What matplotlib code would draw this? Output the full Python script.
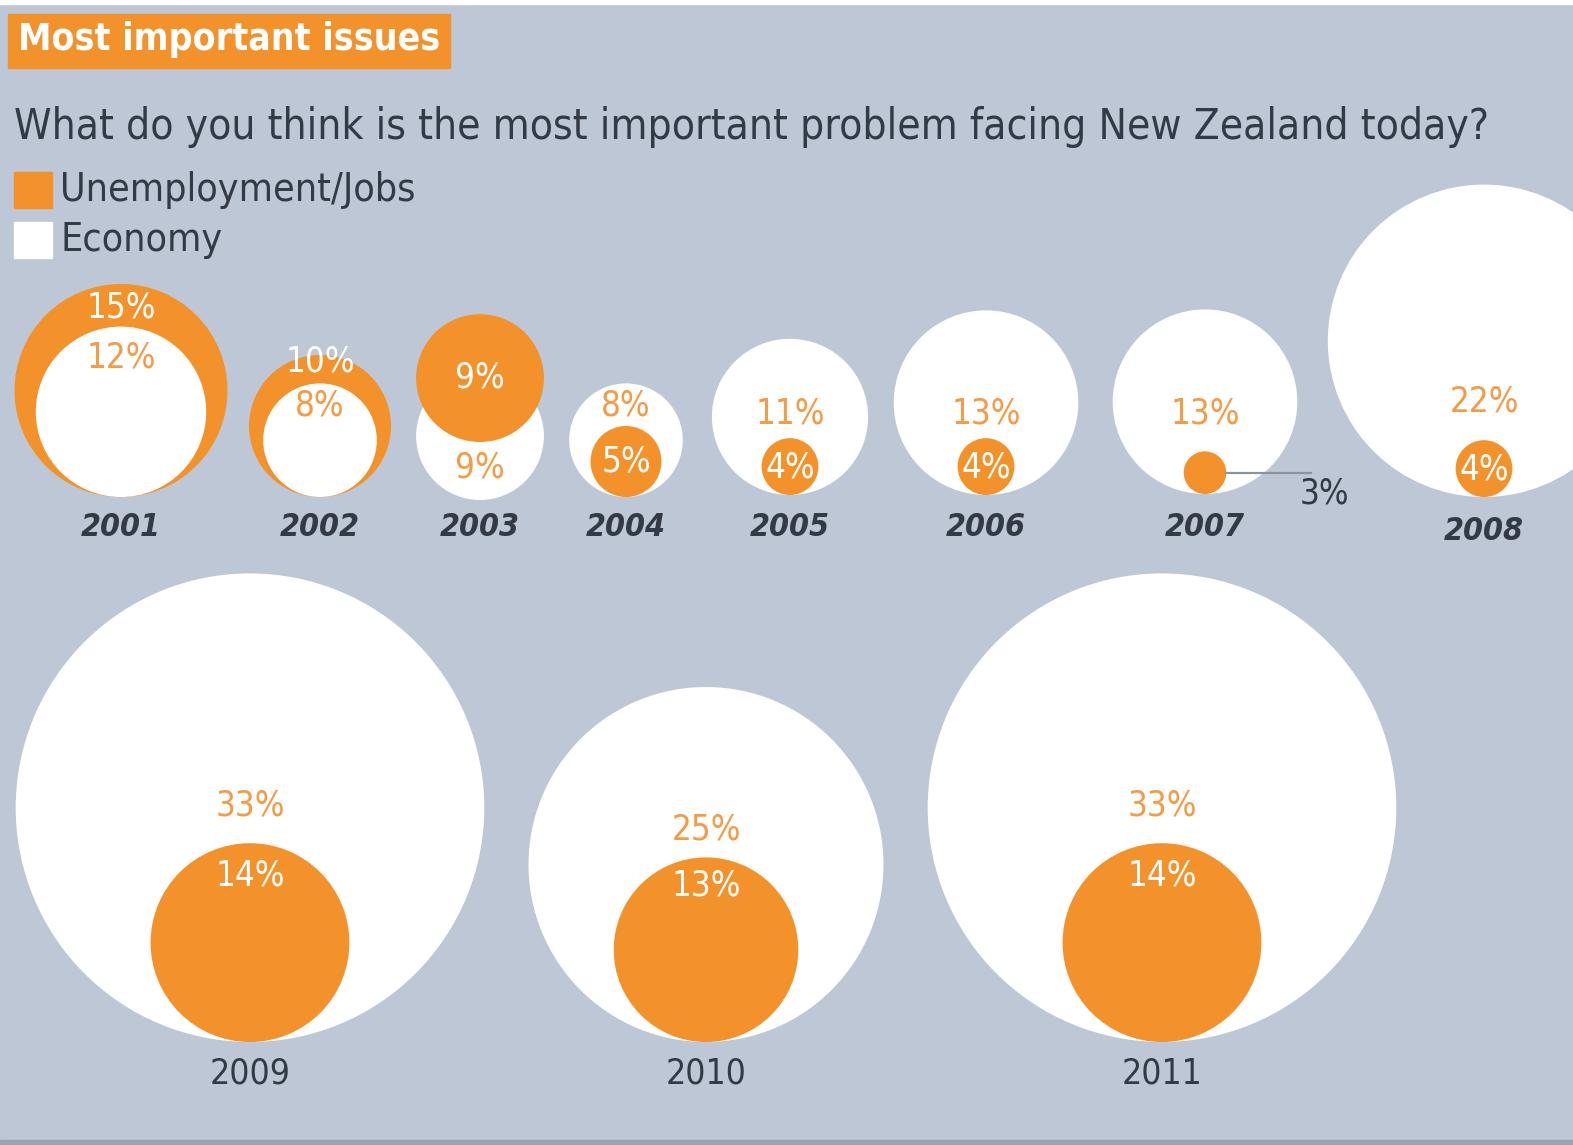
import matplotlib.pyplot as plt
from matplotlib.patches import Circle, Rectangle

# ---- data -----------------------------------------------------------------
years = ["2001", "2002", "2003", "2004", "2005", "2006", "2007", "2008",
         "2009", "2010", "2011"]
economy = [12, 8, 9, 8, 11, 13, 13, 22, 33, 25, 33]
unemployment = [15, 10, 9, 5, 4, 4, 3, 4, 14, 13, 14]

# ---- layout (pixel units, origin top-left) ----------------------------------
W, H = 1573, 1145
PX_PER_PCT = 7.1          # circle radius per percentage point

center_x = [121, 320, 480, 626, 790, 986, 1205, 1484, 250, 706, 1162]
bottom_y = [497, 497, 500, 497, 495, 495, 494, 497, 1042, 1042, 1042]
unemp_lift = [0, 0, 58, 0, 0, 0, 0, 0, 0, 0, 0]   # 2003: both 9%, stack them
econ_label_y = [357, 406, 468, 406, 414, 414, 414, 401, 806, 830, 806]
unemp_label_y = [308, 362, 378, 462, 468, 468, None, 470, 876, 886, 876]
year_label_y = [528, 528, 528, 528, 528, 528, 528, 532, 1073, 1073, 1073]
italic_year = [True] * 8 + [False] * 3

BG = "#bdc7d6"
ORANGE = "#f3912a"
LABEL_ORANGE = "#f59a45"
DARK = "#343a45"

plt.rcParams["font.family"] = ["DejaVu Sans"]
plt.rcParams["font.stretch"] = "condensed"

fig = plt.figure(figsize=(W / 100, H / 100), dpi=100, facecolor=BG)
ax = fig.add_axes([0, 0, 1, 1])
ax.set_xlim(0, W)
ax.set_ylim(H, 0)
ax.set_facecolor(BG)
ax.axis("off")

# thin white strip on top, darker rule at the bottom
ax.add_patch(Rectangle((0, 0), W, 4, color="white", zorder=1))
ax.add_patch(Rectangle((0, H - 5), W, 5, color="#9aa3b1", zorder=1))

# title badge
ax.add_patch(Rectangle((8, 14), 442, 54, color=ORANGE, zorder=2))
ax.text(18, 39, "Most important issues", color="white", fontsize=26.8,
        fontweight="bold", va="center", ha="left", zorder=3)

ax.text(14, 127, "What do you think is the most important problem facing New Zealand today?",
        color=DARK, fontsize=30.4, va="center", ha="left")

# legend
ax.add_patch(Rectangle((14, 172), 38, 36, color=ORANGE))
ax.text(60, 190, "Unemployment/Jobs", color=DARK, fontsize=28.2, va="center")
ax.add_patch(Rectangle((14, 222), 38, 36, color="white"))
ax.text(60, 240, "Economy", color=DARK, fontsize=28.2, va="center")

# nested bubbles, bottom-aligned, radius proportional to value
for i, yr in enumerate(years):
    cx, by = center_x[i], bottom_y[i]
    r_e = economy[i] * PX_PER_PCT
    r_u = unemployment[i] * PX_PER_PCT
    shapes = [(r_e, "white", 0), (r_u, ORANGE, unemp_lift[i])]
    shapes.sort(key=lambda s: -s[0])
    for z, (r, col, lift) in enumerate(shapes):
        ax.add_patch(Circle((cx, by - r - lift), r, color=col, lw=0, zorder=4 + z))

    ax.text(cx, econ_label_y[i], f"{economy[i]}%", color=LABEL_ORANGE,
            fontsize=25, ha="center", va="center", zorder=8)
    if unemp_label_y[i] is not None:
        ax.text(cx, unemp_label_y[i], f"{unemployment[i]}%", color="white",
                fontsize=25, ha="center", va="center", zorder=8)
    else:
        # small bubble: value sits outside with a leader line
        ly = by - r_u
        ax.plot([cx + r_u, cx + r_u + 85], [ly, ly], color="#8d939d", lw=1.6, zorder=7)
        ax.text(cx + r_u + 98, ly + 21, f"{unemployment[i]}%", color=DARK,
                fontsize=25, ha="center", va="center", zorder=8)

    if italic_year[i]:
        ax.text(cx, year_label_y[i], yr, color=DARK, fontsize=23, ha="center",
                va="center", fontstyle="italic", fontweight="bold", zorder=8)
    else:
        ax.text(cx, year_label_y[i], yr, color=DARK, fontsize=25.5, ha="center",
                va="center", zorder=8)

fig.savefig("out.png", dpi=100, facecolor=BG)
